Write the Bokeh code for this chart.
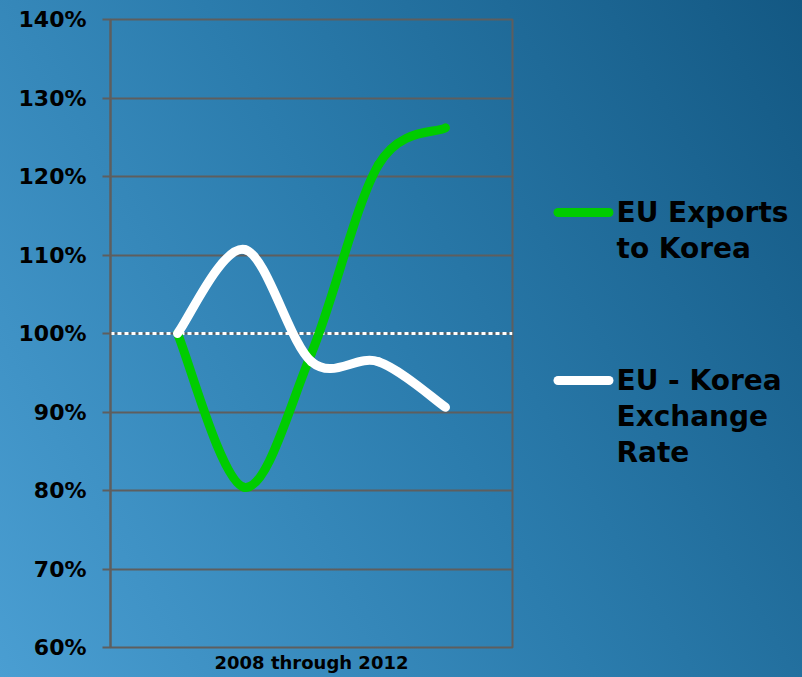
from bokeh.plotting import figure
from bokeh.layouts import row
from bokeh.models import Range1d, FixedTicker, Span, GlobalInlineStyleSheet
from bokeh.core.properties import value
from bokeh.embed import file_html
from bokeh.resources import INLINE

# ---- data ----
years = ["2008", "2009", "2010", "2011", "2012"]
exports = [100.0, 80.4, 97.5, 121.5, 126.2]      # EU exports to Korea (% of 2008)
exchange = [100.0, 110.7, 96.4, 96.4, 90.6]      # EU - Korea exchange rate (% of 2008)
y_ticks = [60, 70, 80, 90, 100, 110, 120, 130, 140]
y_tick_labels = ["60%", "70%", "80%", "90%", "100%", "110%", "120%", "130%", "140%"]
series_names = ["EU Exports\nto Korea", "EU - Korea\nExchange\nRate"]
baseline = 100

FONT = "DejaVu Sans"
GRID = "#5e5e5e"
GREEN = "#00cc00"
COLORS = [GREEN, "white"]
TOP, BOTTOM = 19, 30   # page borders around the plot frame (px)

xs = list(range(1, len(years) + 1))

p = figure(width=514, height=677, output_backend="svg", toolbar_location=None,
           x_range=Range1d(0, len(years) + 1), y_range=Range1d(y_ticks[0], y_ticks[-1]),
           min_border_left=110, min_border_right=2, min_border_top=TOP, min_border_bottom=BOTTOM)
p.border_fill_color = None
p.background_fill_color = None
p.outline_line_color = GRID
p.outline_line_width = 2

# y axis
p.yaxis.ticker = FixedTicker(ticks=y_ticks)
p.yaxis.major_label_overrides = {t: l for t, l in zip(y_ticks, y_tick_labels)}
p.yaxis.major_label_text_font = FONT
p.yaxis.major_label_text_font_style = "bold"
p.yaxis.major_label_text_font_size = "22px"
p.yaxis.major_label_text_color = "black"
p.yaxis.major_label_standoff = 16
p.yaxis.axis_line_color = GRID
p.yaxis.axis_line_width = 2
p.yaxis.major_tick_line_color = GRID
p.yaxis.major_tick_line_width = 2
p.yaxis.major_tick_out = 8
p.yaxis.major_tick_in = 0
p.yaxis.minor_tick_line_color = None

# x axis
p.xaxis.ticker = FixedTicker(ticks=[])
p.xaxis.axis_line_color = None
p.xaxis.major_tick_line_color = None
p.xaxis.minor_tick_line_color = None
p.xaxis.axis_label = f"{years[0]} through {years[-1]}"
p.xaxis.axis_label_text_font = FONT
p.xaxis.axis_label_text_font_style = "bold"
p.xaxis.axis_label_text_font_size = "18px"
p.xaxis.axis_label_text_color = "black"
p.xaxis.axis_label_standoff = 4

p.xgrid.grid_line_color = None
p.ygrid.ticker = FixedTicker(ticks=y_ticks)
p.ygrid.grid_line_color = GRID
p.ygrid.grid_line_width = 2

p.add_layout(Span(location=baseline, dimension="width", line_color="white",
                  line_width=3, line_dash="4 3", level="underlay"))


def smooth_segments(x, y):
    n = len(x)
    seg = dict(x0=[], y0=[], x1=[], y1=[], cx0=[], cy0=[], cx1=[], cy1=[])
    for i in range(n - 1):
        ip = max(i - 1, 0)
        inn = min(i + 2, n - 1)
        seg["x0"].append(x[i]); seg["y0"].append(y[i])
        seg["x1"].append(x[i + 1]); seg["y1"].append(y[i + 1])
        seg["cx0"].append(x[i] + (x[i + 1] - x[ip]) / 6)
        seg["cy0"].append(y[i] + (y[i + 1] - y[ip]) / 6)
        seg["cx1"].append(x[i + 1] - (x[inn] - x[i]) / 6)
        seg["cy1"].append(y[i + 1] - (y[inn] - y[i]) / 6)
    return seg


for vals, col in zip((exports, exchange), COLORS):
    s = smooth_segments(xs, vals)
    p.bezier(x0=s["x0"], y0=s["y0"], x1=s["x1"], y1=s["y1"],
             cx0=s["cx0"], cy0=s["cy0"], cx1=s["cx1"], cy1=s["cy1"],
             line_color=col, line_width=9, line_cap="round")

# ---- legend panel (pixel coordinates of the page, y downward) ----
lg = figure(width=288, height=677, output_backend="svg", toolbar_location=None,
            x_range=Range1d(514, 802), y_range=Range1d(677 - BOTTOM, TOP),
            x_axis_type=None, y_axis_type=None,
            min_border_left=0, min_border_right=0, min_border_top=TOP, min_border_bottom=BOTTOM)
lg.border_fill_color = None
lg.background_fill_color = None
lg.outline_line_color = None
lg.grid.visible = False

leg_line_y = [212, 380]
leg_first_baseline = [212, 380]
LINE_STEP = 36
for name, col, ly, by in zip(series_names, COLORS, leg_line_y, leg_first_baseline):
    lg.line(x=[557.5, 608.5], y=[ly, ly], line_color=col, line_width=9, line_cap="round")
    lines = name.split("\n")
    lg.text(x=[616] * len(lines), y=[by + LINE_STEP * k for k in range(len(lines))], text=lines,
            text_font=value(FONT), text_font_style="bold", text_font_size="28px",
            text_color="black", text_baseline="alphabetic")

layout = row(p, lg, spacing=0)
layout.styles = {"background-image": "linear-gradient(60deg, #4a9ed2 0%, #2b7cad 50%, #135883 100%)"}
layout.stylesheets = [GlobalInlineStyleSheet(css="html, body { margin: 0 !important; padding: 0; overflow: hidden; }")]

open("out.html", "w").write(file_html(layout, INLINE))
